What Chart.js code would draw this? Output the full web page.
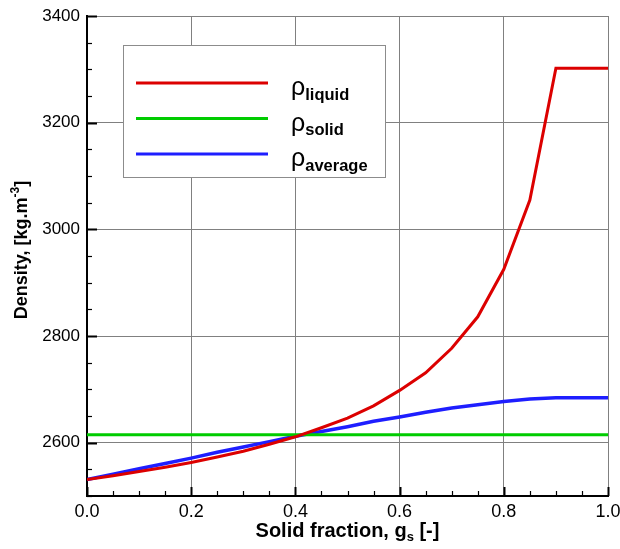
<!DOCTYPE html>
<html>
<head>
<meta charset="utf-8">
<script src="https://cdn.jsdelivr.net/npm/chart.js@4/dist/chart.umd.min.js"></script>
<style>
  body { margin: 0; background: #fff; }
  #wrap { width: 620px; height: 549px; position: relative; }
</style>
</head>
<body>
<div id="wrap"><canvas id="density_chart"></canvas></div>
<script>
const solid_fraction = [0, 0.05, 0.1, 0.15, 0.2, 0.25, 0.3, 0.35, 0.4, 0.45, 0.5,
                        0.55, 0.6, 0.65, 0.7, 0.75, 0.8, 0.85, 0.9, 0.95, 1.0];
const rho_liquid = [2531, 2538, 2546, 2554, 2563, 2573, 2584, 2597, 2611, 2628, 2646,
                    2669, 2698, 2731, 2777, 2836, 2925, 3055, 3302, 3302, 3302];
const rho_solid = [2615, 2615, 2615, 2615, 2615, 2615, 2615, 2615, 2615, 2615, 2615,
                   2615, 2615, 2615, 2615, 2615, 2615, 2615, 2615, 2615, 2615];
const rho_average = [2531, 2541, 2551, 2561, 2571, 2582, 2592, 2602, 2612, 2621, 2630,
                     2640, 2648, 2657, 2665, 2671, 2677, 2682, 2684, 2684, 2684];
const series_subs = ["liquid", "solid", "average"];
const y_ticks = [2600, 2800, 3000, 3200, 3400];
const x_ticks = [0, 0.2, 0.4, 0.6, 0.8, 1.0];

const FONT = "'Liberation Sans', Arial, sans-serif";

function to_points(ys) {
    return solid_fraction.map((x, i) => ({ x: x, y: ys[i] }));
}

// draws pieces [text, font, dy] one after another from x,y
function draw_pieces(ctx, pieces, x, y) {
    pieces.forEach(p => {
        ctx.font = p[1];
        ctx.fillText(p[0], x, y + (p[2] || 0));
        x += ctx.measureText(p[0]).width;
    });
}
function pieces_width(ctx, pieces) {
    let w = 0;
    pieces.forEach(p => { ctx.font = p[1]; w += ctx.measureText(p[0]).width; });
    return w;
}

const decorations = {
    id: "decorations",
    afterDraw(chart) {
        const ctx = chart.ctx;
        const area = chart.chartArea;
        const xs = chart.scales.x, ys = chart.scales.y;
        ctx.save();

        // minor and major tick marks, pointing inward
        ctx.strokeStyle = "#000";
        for (let i = 0; i <= 20; i++) {
            const v = i * 0.05;
            const px = Math.round(xs.getPixelForValue(v)) + 0.5;
            const major = (i % 4 === 0);
            ctx.lineWidth = major ? 2 : 1.2;
            ctx.beginPath();
            ctx.moveTo(px, area.bottom);
            ctx.lineTo(px, area.bottom - (major ? 9 : 5));
            ctx.stroke();
        }
        for (let v = 2500; v <= 3400; v += 50) {
            const py = Math.round(ys.getPixelForValue(v)) + 0.5;
            const major = ((v - 2600) % 200 === 0);
            ctx.lineWidth = major ? 2 : 1.2;
            ctx.beginPath();
            ctx.moveTo(area.left, py);
            ctx.lineTo(area.left + (major ? 10 : 5), py);
            ctx.stroke();
        }

        // axis titles
        ctx.fillStyle = "#000";
        ctx.textBaseline = "alphabetic";
        ctx.textAlign = "left";
        const xt = [["Solid fraction, g", "bold 20px " + FONT], ["s", "bold 13px " + FONT, 4], [" [-]", "bold 20px " + FONT]];
        const xw = pieces_width(ctx, xt);
        draw_pieces(ctx, xt, (area.left + area.right) / 2 - xw / 2, 537);

        const yt = [["Density, [kg.m", "bold 18px " + FONT], ["-3", "bold 12px " + FONT, -8], ["]", "bold 18px " + FONT]];
        const yw = pieces_width(ctx, yt);
        ctx.save();
        ctx.translate(27, 250);
        ctx.rotate(-Math.PI / 2);
        draw_pieces(ctx, yt, -yw / 2, 0);
        ctx.restore();

        // legend box
        ctx.fillStyle = "#fff";
        ctx.fillRect(123, 45, 263, 133);
        ctx.strokeStyle = "#8c8c8c";
        ctx.lineWidth = 1;
        ctx.strokeRect(123.5, 45.5, 262, 132);
        chart.data.datasets.forEach((ds, i) => {
            const ly = 83 + i * 35.5;
            ctx.strokeStyle = ds.borderColor;
            ctx.lineWidth = 3;
            ctx.beginPath();
            ctx.moveTo(136, ly);
            ctx.lineTo(268, ly);
            ctx.stroke();
            ctx.fillStyle = "#000";
            draw_pieces(ctx, [["\u03C1", "25px " + FONT], [series_subs[i], "bold 16.5px " + FONT, 4.5]], 291, ly + 12);
        });
        ctx.restore();
    }
};

const chart_element = document.getElementById("density_chart");

const chart = new Chart(chart_element, {
    type: "line",
    data: {
        datasets: [
            { label: "rho liquid", data: to_points(rho_liquid), borderColor: "rgb(220,0,0)", borderWidth: 3 },
            { label: "rho solid", data: to_points(rho_solid), borderColor: "rgb(0,204,0)", borderWidth: 3 },
            { label: "rho average", data: to_points(rho_average), borderColor: "rgb(30,30,255)", borderWidth: 3.5 }
        ]
    },
    options: {
        responsive: true,
        maintainAspectRatio: false,
        animation: false,
        layout: { padding: { top: 16, right: 12, left: 0, bottom: 0 } },
        elements: { point: { radius: 0 }, line: { tension: 0, borderJoinStyle: "miter" } },
        plugins: { legend: { display: false }, tooltip: { enabled: false } },
        scales: {
            x: {
                type: "linear",
                min: 0,
                max: 1,
                afterBuildTicks: (s) => { s.ticks = x_ticks.map(v => ({ value: v })); },
                afterFit: (s) => { s.height = 53; s.paddingRight = 0; s.paddingLeft = 0; },
                ticks: {
                    callback: (v) => v.toFixed(1),
                    color: "#000",
                    font: { family: FONT, size: 18 },
                    padding: 5,
                    maxRotation: 0
                },
                grid: { color: "#808080", lineWidth: 1, drawTicks: false },
                border: { color: "#000", width: 2 }
            },
            y: {
                min: 2500,
                max: 3400,
                afterBuildTicks: (s) => { s.ticks = y_ticks.map(v => ({ value: v })); },
                afterFit: (s) => { s.width = 87; s.paddingTop = 0; },
                ticks: {
                    callback: (v) => String(v),
                    color: "#000",
                    font: { family: FONT, size: 17 },
                    padding: 7
                },
                grid: { color: "#808080", lineWidth: 1, drawTicks: false },
                border: { color: "#000", width: 2 }
            }
        }
    },
    plugins: [decorations]
});
</script>
</body>
</html>
